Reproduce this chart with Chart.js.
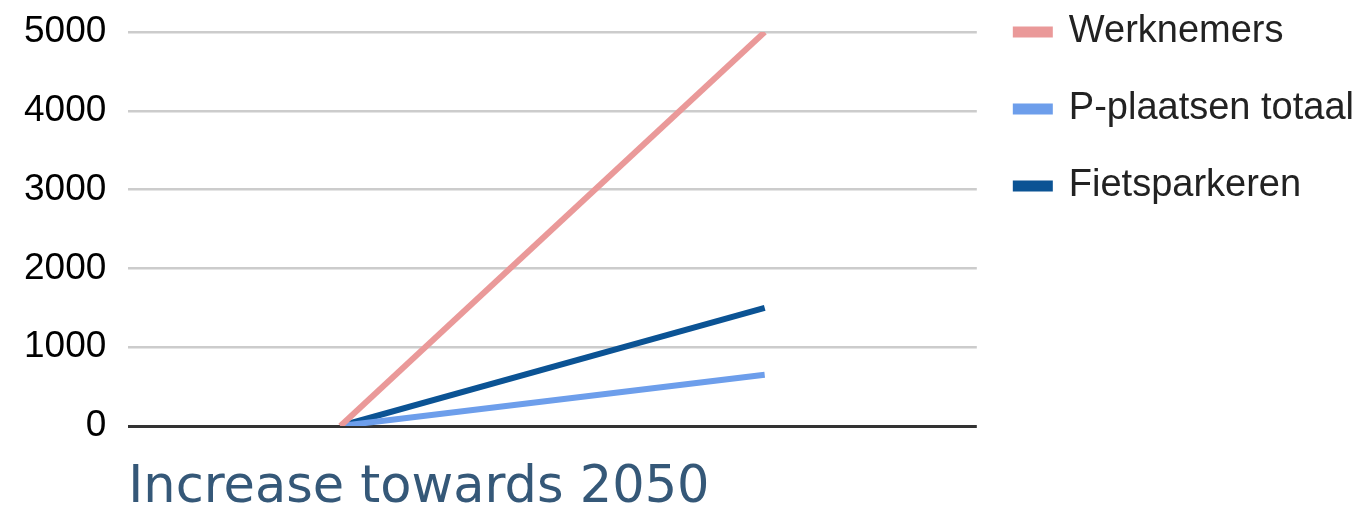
<!DOCTYPE html>
<html>
<head>
<meta charset="utf-8">
<script src="https://cdn.jsdelivr.net/npm/chart.js@4.4.1/dist/chart.umd.min.js"></script>
<style>
  html, body { margin: 0; padding: 0; background: #fff; }
  #wrap { width: 1364px; height: 512px; }
</style>
</head>
<body>
<div id="wrap"><canvas id="increaseChart"></canvas></div>
<script>
// the x axis shows no category labels, only the two points
const categories = ['', ''];
const werknemers = [0, 5000];
const pPlaatsenTotaal = [0, 650];
const fietsparkeren = [0, 1500];
const yTicks = [0, 1000, 2000, 3000, 4000, 5000];
const axisTitle = 'Increase towards 2050';

// chart.js caps a side legend at a quarter of the width, let it take what it needs
const wideLegend = {
    id: 'wideLegend',
    beforeInit: (chart) => {
        const legend = chart.legend;
        const fit = legend.fit;
        legend.fit = function () {
            this.maxWidth = chart.width;
            fit.call(this);
        };
    }
};

const ctx = document.getElementById('increaseChart').getContext('2d');
const myChart = new Chart(ctx, {
    type: 'line',
    data: {
        labels: categories,
        datasets: [{
            label: 'Werknemers',
            data: werknemers,
            borderColor: '#ea9999',
            backgroundColor: '#ea9999',
            borderWidth: 6,
            pointRadius: 0,
            tension: 0
        }, {
            label: 'P-plaatsen totaal',
            data: pPlaatsenTotaal,
            borderColor: '#6d9eeb',
            backgroundColor: '#6d9eeb',
            borderWidth: 6,
            pointRadius: 0,
            tension: 0
        }, {
            label: 'Fietsparkeren',
            data: fietsparkeren,
            borderColor: '#0b5394',
            backgroundColor: '#0b5394',
            borderWidth: 6,
            pointRadius: 0,
            tension: 0
        }]
    },
    plugins: [wideLegend],
    options: {
        responsive: true,
        maintainAspectRatio: false,
        animation: false,
        layout: {
            padding: { left: 2, top: -26, right: 0, bottom: 0 }
        },
        plugins: {
            tooltip: { enabled: false },
            legend: {
                position: 'right',
                align: 'start',
                labels: {
                    boxWidth: 34,
                    boxHeight: 5,
                    padding: 39,
                    color: '#222',
                    font: { family: '"Liberation Sans", Arial, sans-serif', size: 38 }
                }
            }
        },
        scales: {
            x: {
                offset: true,
                grid: { display: false, drawTicks: false },
                border: { display: false },
                ticks: { display: false },
                title: {
                    display: true,
                    text: axisTitle,
                    align: 'start',
                    color: '#355878',
                    font: { family: '"DejaVu Sans", sans-serif', size: 51, lineHeight: 1 },
                    padding: { top: 37, bottom: -2 }
                }
            },
            y: {
                min: 0,
                max: 5000,
                afterBuildTicks: (scale) => {
                    scale.ticks = yTicks.map(v => ({ value: v }));
                },
                border: { display: false },
                grid: {
                    drawTicks: false,
                    color: (c) => c.tick && c.tick.value === 0 ? '#333' : '#ccc',
                    lineWidth: (c) => c.tick && c.tick.value === 0 ? 3 : 2.5
                },
                ticks: {
                    padding: 22,
                    color: '#000',
                    font: { family: '"Liberation Sans", Arial, sans-serif', size: 37, lineHeight: '20px' },
                    callback: (value) => String(value)
                }
            }
        }
    }
});
</script>
</body>
</html>
